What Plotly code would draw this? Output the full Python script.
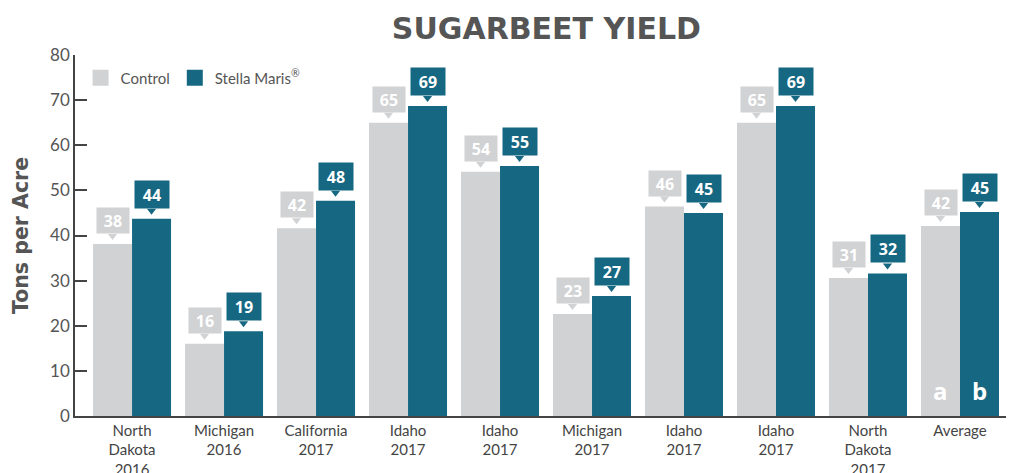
import plotly.graph_objects as go

categories = ["North<br>Dakota<br>2016", "Michigan<br>2016", "California<br>2017", "Idaho<br>2017",
              "Idaho<br>2017", "Michigan<br>2017", "Idaho<br>2017", "Idaho<br>2017",
              "North<br>Dakota<br>2017", "Average"]
control = [38.1, 16.0, 41.6, 65.0, 54.1, 22.6, 46.4, 65.0, 30.6, 42.1]
stella = [43.7, 18.8, 47.7, 68.7, 55.4, 26.6, 45.0, 68.7, 31.6, 45.2]
control_labels = ["38", "16", "42", "65", "54", "23", "46", "65", "31", "42"]
stella_labels = ["44", "19", "48", "69", "55", "27", "45", "69", "32", "45"]
y_ticks = [0, 10, 20, 30, 40, 50, 60, 70, 80]

GRAY = "#D1D2D4"
TEAL = "#166882"
TXT = "#555555"
FONT = "Lato"
BOLD = "Open Sans"
WIDE = "DejaVu Sans"

BARGAP = 0.152
half = (1 - BARGAP) / 4  # offset of each bar center from category center
x = list(range(len(categories)))

H_PLOT = 473 - 55 - 57
px_per_unit = H_PLOT / 80.0

fig = go.Figure()
fig.add_bar(x=x, y=control, name="Control", marker_color=GRAY, marker_line_width=0,
            showlegend=False)
fig.add_bar(x=x, y=stella, name="Stella Maris®", marker_color=TEAL, marker_line_width=0,
            showlegend=False)

# legend entries (square swatches)
fig.add_scatter(x=[None], y=[None], mode="markers", name="Control",
                marker=dict(symbol="square", size=16, color=GRAY))
fig.add_scatter(x=[None], y=[None], mode="markers", name="Stella Maris<sup>®</sup>",
                marker=dict(symbol="square", size=16, color=TEAL))

# pointer triangles
off = 8 / px_per_unit
fig.add_scatter(x=[i - half for i in x], y=[v + off for v in control], mode="markers",
                marker=dict(symbol="triangle-down", size=8, color=GRAY), showlegend=False,
                hoverinfo="skip")
fig.add_scatter(x=[i + half for i in x], y=[v + off for v in stella], mode="markers",
                marker=dict(symbol="triangle-down", size=8, color=TEAL), showlegend=False,
                hoverinfo="skip")

for i in x:
    fig.add_annotation(x=i - half, y=control[i], text="<b>" + control_labels[i] + "</b>",
                       showarrow=False, yanchor="bottom", yshift=10, bgcolor=GRAY,
                       font=dict(color="white", size=16, family=BOLD), width=28, height=21,
                       borderpad=2)
    fig.add_annotation(x=i + half, y=stella[i], text="<b>" + stella_labels[i] + "</b>",
                       showarrow=False, yanchor="bottom", yshift=10, bgcolor=TEAL,
                       font=dict(color="white", size=16, family=BOLD), width=30, height=23,
                       borderpad=2)

# a / b letters on Average
fig.add_annotation(x=x[-1] - half, y=0, text="<b>a</b>", showarrow=False, yanchor="bottom",
                   yshift=7, font=dict(color="white", size=24, family=BOLD))
fig.add_annotation(x=x[-1] + half, y=0, text="<b>b</b>", showarrow=False, yanchor="bottom",
                   yshift=7, font=dict(color="white", size=24, family=BOLD))

fig.update_layout(
    width=1009, height=473,
    margin=dict(l=75, r=3, t=55, b=57),
    paper_bgcolor="white", plot_bgcolor="white",
    barmode="group", bargap=BARGAP, bargroupgap=0,
    font=dict(family=FONT, color=TXT),
    title=dict(text="<b>SUGARBEET YIELD</b>", x=0.5415, xref="container", xanchor="center",
               y=0.94, yref="container", yanchor="middle",
               font=dict(size=30, color=TXT, family=WIDE)),
    legend=dict(orientation="h", x=0.006, y=0.936, xanchor="left", yanchor="middle",
                font=dict(size=15, color=TXT, family=FONT), bgcolor="rgba(0,0,0,0)",
                itemsizing="trace", traceorder="normal"),
    showlegend=True,
)
fig.update_xaxes(range=[-0.62, 9.5], tickvals=x, ticktext=categories, showgrid=False,
                 showline=True, linecolor="#444444", linewidth=1.5, ticks="",
                 tickfont=dict(size=15, color="#444444", family=FONT), automargin=False,
                 zeroline=False, fixedrange=True)
fig.update_yaxes(range=[0, 80], tickvals=y_ticks, showgrid=False, showline=True,
                 linecolor="#444444", linewidth=1.5, ticks="inside", ticklen=12,
                 tickcolor="#444444", tickwidth=1.5, zeroline=False,
                 tickfont=dict(size=17, color=TXT, family=FONT),
                 title=dict(text="<b>Tons per Acre</b>", font=dict(size=20.5, color=TXT, family=WIDE),
                            standoff=16),
                 automargin=False)

fig.write_html("out.html", post_script="document.body.style.margin='0';",
               config={"displayModeBar": False})
